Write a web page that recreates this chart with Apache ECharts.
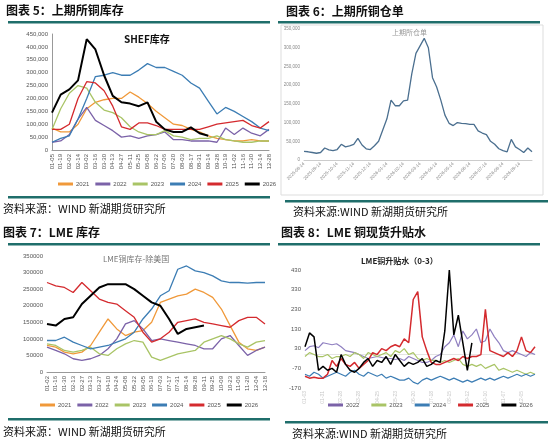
<!DOCTYPE html>
<html>
<head>
<meta charset="UTF-8">
<title>铜库存</title>
<script src="https://cdn.jsdelivr.net/npm/echarts@6/dist/echarts.min.js"></script>
<style>
  html, body { margin: 0; padding: 0; background: #fff; }
  #main { width: 550px; height: 444px; }
</style>
</head>
<body>
<div id="main"></div>
<script>
// 图表5 上期所库存 (双周)
var shfeDays = ['01-05','01-19','02-02','02-14','03-02','03-16','03-30','04-13','04-27','05-11','05-25','06-08','06-22','07-06','07-20','08-03','08-17','08-31','09-14','09-28','10-19','11-02','11-16','11-30','12-14','12-28'];
var shfe2021 = [85,70,70,100,160,185,195,200,200,225,205,180,150,125,100,95,80,70,55,45,40,35,35,40,35,35];
var shfe2022 = [30,35,60,120,165,115,95,75,50,55,45,55,60,70,40,40,35,35,35,30,85,60,85,65,55,80];
var shfe2023 = [80,160,220,250,240,185,155,145,125,90,70,60,60,75,55,50,40,45,45,55,40,35,30,30,35,35];
var shfe2024 = [30,45,55,120,200,285,290,300,290,290,310,335,320,320,305,290,260,240,190,140,165,150,130,110,85,75];
var shfe2025 = [80,80,100,200,265,260,230,170,90,80,105,105,95,80,80,80,80,80,90,100,105,110,115,95,85,110];
var shfe2026 = [145,215,235,270,430,390,290,210,185,180,170,185,110,80,70,70,88,65,55];

// 图表6 上期所仓单 (周)
var whDays = [];
var whMonths = ['2025-08-14','2025-09-14','2025-10-14','2025-11-14','2025-12-14','2026-01-14','2026-02-14','2026-03-14','2026-04-14','2026-05-14','2026-06-14','2026-07-14','2026-08-14','2026-09-14'];
var warrant = [23,22,20,18,20,32,27,25,28,42,35,38,42,58,40,30,28,38,50,80,110,160,145,145,158,160,230,285,305,325,300,220,195,160,120,98,92,100,98,97,95,95,78,72,68,50,42,30,25,22,55,35,28,20,32,22];
for (var i = 0; i < warrant.length; i++) {
  whDays.push(i % 4 === 0 && whMonths[i / 4] ? whMonths[i / 4] : 'w' + i);
}

// 图表7 LME库存-除美国 (双周)
var lmeDays = ['01-02','01-16','01-30','02-13','02-27','03-13','03-27','04-10','04-24','05-08','05-22','06-05','06-19','07-03','07-17','07-31','08-14','08-28','09-11','09-25','10-09','10-23','11-06','11-20','12-04','12-18'];
var lme2021 = [80,75,60,55,60,80,120,160,130,110,120,125,150,210,220,230,235,250,240,225,190,140,90,70,65,75];
var lme2022 = [75,65,55,40,35,40,50,70,100,145,155,130,95,100,95,90,85,80,70,70,100,110,80,50,65,75];
var lme2023 = [85,80,65,60,65,75,55,50,70,85,95,90,45,35,45,55,60,65,90,100,110,100,85,75,90,95];
var lme2024 = [95,95,105,90,80,70,75,80,90,100,120,160,190,230,245,310,320,305,300,290,275,270,270,268,270,270];
var lme2025 = [270,260,255,240,270,245,220,210,205,185,165,120,90,100,120,150,155,160,150,145,140,135,155,165,165,145];
var lme2026 = [145,140,160,165,205,230,255,265,265,265,250,230,210,200,160,115,130,135,140];

// 图表8 LME升贴水 0-3 (周)
var spDays = [];
for (var w = 0; w < 52; w++) {
  var d = new Date(2021, 0, 3 + w * 7);
  spDays.push(('0' + (d.getMonth() + 1)).slice(-2) + '-' + ('0' + d.getDate()).slice(-2));
}
var sp2022 = [20,40,45,35,60,55,50,55,40,20,15,10,0,-10,-20,-15,-10,-15,-20,-20,-25,-20,-30,-10,-20,-30,-40,-40,-30,-10,0,40,60,100,40,120,80,100,130,60,70,130,90,60,20,10,20,10,0,-10,10,0];
var sp2023 = [-10,10,0,-10,-10,0,-20,-10,-10,0,-10,10,0,-20,10,0,-10,0,10,-10,20,10,30,0,10,-20,-30,-20,-30,-30,-40,-30,-40,-30,-20,-50,-60,-50,-60,-50,-70,-60,-50,-80,-70,-80,-90,-80,-90,-100,-90,-100];
var sp2024 = [-100,-110,-90,-100,-120,-110,-100,-90,-100,-110,-90,-80,-100,-110,-90,-100,-110,-100,-120,-110,-120,-130,-130,-120,-140,-150,-130,-120,-130,-120,-110,-120,-130,-120,-130,-140,-130,-140,-130,-120,-130,-120,-130,-120,-110,-120,-110,-100,-110,-100,-110,-100];
var sp2025 = [-110,-120,-115,-120,-120,-100,-30,-60,-20,-50,-60,-40,-70,-50,-30,10,0,30,20,40,50,40,80,60,280,320,90,20,-40,-50,-50,-40,-30,-20,-30,-10,-20,-10,-10,0,230,20,10,0,-10,10,-10,20,90,20,10,40];
var sp2026 = [40,110,90,-80,-60,-80,-70,-90,0,-50,-80,-90,-70,-40,-20,-60,-30,-40,-10,-50,0,-30,-60,-40,-50,-40,-20,-60,-50,-30,-40,120,430,100,200,60,-80,60];

var colors = {
  '2021': '#f0993a', '2022': '#7b62a8', '2023': '#a9c466',
  '2024': '#3c7db4', '2025': '#d42a2e', '2026': '#000000'
};
var teal = '#1f6e6b';
var cjk = '"Noto Sans CJK SC", sans-serif';

function k(arr) { return arr.map(function (v) { return v * 1000; }); }

function line(name, data, xi, width, col) {
  return {
    name: name, type: 'line', xAxisIndex: xi, yAxisIndex: xi,
    data: data, symbol: 'none', smooth: false,
    lineStyle: { width: width, color: col || colors[name] },
    itemStyle: { color: col || colors[name] }
  };
}

function catAxis(grid, data, rot, extra) {
  var ax = {
    type: 'category', gridIndex: grid, data: data, boundaryGap: false,
    axisLine: { lineStyle: { color: '#999' } },
    axisTick: { show: false },
    axisLabel: { rotate: rot, fontSize: 6, color: '#555', interval: 0, margin: 4 }
  };
  for (var p in extra) ax[p] = extra[p];
  return ax;
}

function valAxis(grid, max, step, fmt, extra) {
  var ax = {
    type: 'value', gridIndex: grid, min: 0, max: max, interval: step,
    splitLine: { show: false },
    axisLine: { show: false }, axisTick: { show: false },
    axisLabel: { fontSize: 6, color: '#555', margin: 4, formatter: fmt }
  };
  for (var p in extra) ax[p] = extra[p];
  return ax;
}

function legend(names, left, top, gap) {
  return {
    data: names, left: left, top: top, itemGap: gap, width: 480, orient: 'horizontal',
    padding: 0, itemWidth: 15, itemHeight: 3, icon: 'rect',
    textStyle: { fontSize: 6, color: '#555', padding: [0, 0, 0, -2] }
  };
}

function txt(x, y, s, size, weight, col) {
  return { type: 'text', left: x, top: y, style: { text: s, font: weight + ' ' + size + 'px ' + cjk, fill: col || '#111' } };
}
function bar(x1, x2, y) {
  return { type: 'rect', shape: { x: x1, y: y, width: x2 - x1, height: 2.5 }, style: { fill: teal } };
}

var chart = echarts.init(document.getElementById('main'));
var yrs6 = ['2021','2022','2023','2024','2025','2026'];
var yrs5 = ['2022','2023','2024','2025','2026'];
var thousands = function (v) { return v.toLocaleString('en-US'); };
var plain = function (v) { return String(v); };

var option = {
  animation: false,
  grid: [
    { left: 52, right: 281, top: 34, bottom: 294 },
    { left: 304, right: 18, top: 29, bottom: 284 },
    { left: 47, right: 285, top: 256, bottom: 72 },
    { left: 305, right: 15, top: 270, bottom: 56 }
  ],
  xAxis: [
    catAxis(0, shfeDays, 90),
    catAxis(1, whDays, 45, { axisLabel: { rotate: 45, fontSize: 4.5, color: '#888', margin: 3,
      interval: function (i) { return i % 4 === 0 && i / 4 < whMonths.length; } },
      axisLine: { lineStyle: { color: '#ccc' } } }),
    catAxis(2, lmeDays, 90),
    catAxis(3, spDays, 90, { axisLine: { onZero: true, lineStyle: { color: '#e4e4e4' } },
      axisLabel: { rotate: 90, fontSize: 5, color: '#c8c8c8', interval: 3, margin: 3 } })
  ],
  yAxis: [
    valAxis(0, 450000, 50000, thousands,
      { axisLine: { show: true, lineStyle: { color: '#999' } } }),
    valAxis(1, 350000, 50000, thousands,
      { axisLabel: { fontSize: 4.5, color: '#888', margin: 4, formatter: thousands } }),
    valAxis(2, 350000, 50000, plain),
    valAxis(3, 430, 100, plain, { min: -170 })
  ],
  legend: [
    legend(yrs6, 58, 181, 6),
    legend(yrs6, 40, 402, 6),
    legend(yrs5, 328, 402, 12)
  ],
  graphic: [
    txt(6, 4, '图表 5：上期所铜库存', 12, 'bold'),
    bar(8, 270, 21),
    txt(124, 34, 'SHEF库存', 10, 'bold'),
    bar(8, 270, 196),
    txt(3, 203, '资料来源：WIND 新湖期货研究所', 11, 'normal'),

    txt(286, 5, '图表 6：上期所铜仓单', 12, 'bold'),
    bar(278, 540, 21),
    { type: 'rect', shape: { x: 281, y: 25, width: 262, height: 170 }, style: { fill: 'none', stroke: '#ddd', lineWidth: 1 } },
    txt(392, 29, '上期所仓单', 7, 'normal', '#999'),
    bar(285, 548, 200),
    txt(293, 206, '资料来源:WIND 新湖期货研究所', 11, 'normal'),

    txt(3, 226, '图表 7：LME 库存', 12, 'bold'),
    bar(8, 270, 243),
    txt(103, 255, 'LME铜库存-除美国', 8, 'normal', '#777'),
    bar(8, 270, 418),
    txt(3, 426, '资料来源：WIND 新湖期货研究所', 11, 'normal'),

    txt(281, 226, '图表 8：LME 铜现货升贴水', 12, 'bold'),
    bar(278, 540, 243),
    txt(361, 257, 'LME铜升贴水（0-3）', 8, 'bold', '#222'),
    bar(285, 548, 421),
    txt(292, 428, '资料来源:WIND 新湖期货研究所', 11, 'normal')
  ],
  series: [
    line('2021', k(shfe2021), 0, 1.3),
    line('2022', k(shfe2022), 0, 1.3),
    line('2023', k(shfe2023), 0, 1.3),
    line('2024', k(shfe2024), 0, 1.3),
    line('2025', k(shfe2025), 0, 1.3),
    line('2026', k(shfe2026), 0, 2),

    line('上期所仓单', k(warrant), 1, 1.3, '#4b6f8f'),

    line('2021', k(lme2021), 2, 1.3),
    line('2022', k(lme2022), 2, 1.3),
    line('2023', k(lme2023), 2, 1.3),
    line('2024', k(lme2024), 2, 1.3),
    line('2025', k(lme2025), 2, 1.3),
    line('2026', k(lme2026), 2, 2),

    line('2022', sp2022, 3, 1.2, '#8f7fc0'),
    line('2023', sp2023, 3, 1.2),
    line('2024', sp2024, 3, 1.2),
    line('2025', sp2025, 3, 1.5),
    line('2026', sp2026, 3, 1.5)
  ]
};
chart.setOption(option);
</script>
</body>
</html>
